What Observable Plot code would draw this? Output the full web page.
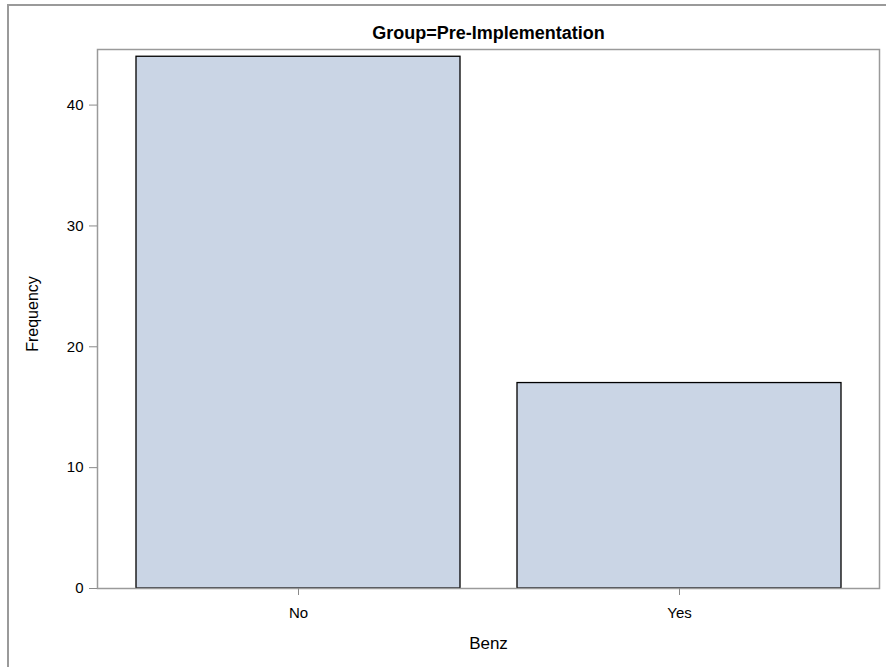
<!DOCTYPE html>
<html><head><meta charset="utf-8">
<script src="https://cdn.jsdelivr.net/npm/d3@7"></script>
<script src="https://cdn.jsdelivr.net/npm/@observablehq/plot@0.6"></script>
<style>
body{margin:0;background:#fff;}
#wrap{position:relative;width:886px;height:667px;overflow:hidden;}
#wrap svg{position:absolute;left:0;top:0;}
#border{position:absolute;left:7px;top:4px;width:900px;height:700px;border-left:2px solid #9a9a9a;border-top:2px solid #9a9a9a;pointer-events:none;}
</style></head><body>
<div id="wrap"><div id="border"></div></div>
<script>
const categories = ["No", "Yes"];
const frequencies = [44, 17];
const yTicks = [0, 10, 20, 30, 40];
const title = "Group=Pre-Implementation";
const xLabel = "Benz";
const yLabel = "Frequency";

const data = categories.map((c, i) => ({benz: c, freq: frequencies[i]}));

const chart = Plot.plot({
  width: 886, height: 667,
  marginLeft: 97, marginRight: 7, marginTop: 49, marginBottom: 79,
  style: {fontFamily: "'Liberation Sans', Arial, sans-serif", fontSize: "15px", background: "transparent", overflow: "visible", color: "#000"},
  x: {domain: categories, paddingInner: 0.15, paddingOuter: 0.1, label: null},
  y: {domain: [0, 44.6], label: null},
  marks: [
    Plot.barY(data, {x: "benz", y: "freq", fill: "#cad5e5", stroke: "#000", strokeWidth: 1.3}),
    Plot.frame({stroke: "#9a9a9a", strokeWidth: 1.5}),
    Plot.axisY({ticks: yTicks, tickSize: 8, tickPadding: 6, fontSize: 15, stroke: "#8a8a8a", fill: "#000", label: null}),
    Plot.axisX({tickSize: 7, tickPadding: 12, fontSize: 15, stroke: "#8a8a8a", fill: "#000", label: null}),
    Plot.text([title], {text: d => d, frameAnchor: "top", textAnchor: "middle", lineAnchor: "middle", dy: -16, fontWeight: "bold", fontSize: 18, fill: "#000"}),
    Plot.text([xLabel], {text: d => d, frameAnchor: "bottom", textAnchor: "middle", lineAnchor: "middle", dy: 55, fontSize: 17, fill: "#000"}),
    Plot.text([yLabel], {text: d => d, frameAnchor: "left", textAnchor: "middle", lineAnchor: "middle", dx: -65, dy: -5, rotate: -90, fontSize: 16, fill: "#000"})
  ]
});
document.getElementById("wrap").prepend(chart);
</script>
</body></html>
